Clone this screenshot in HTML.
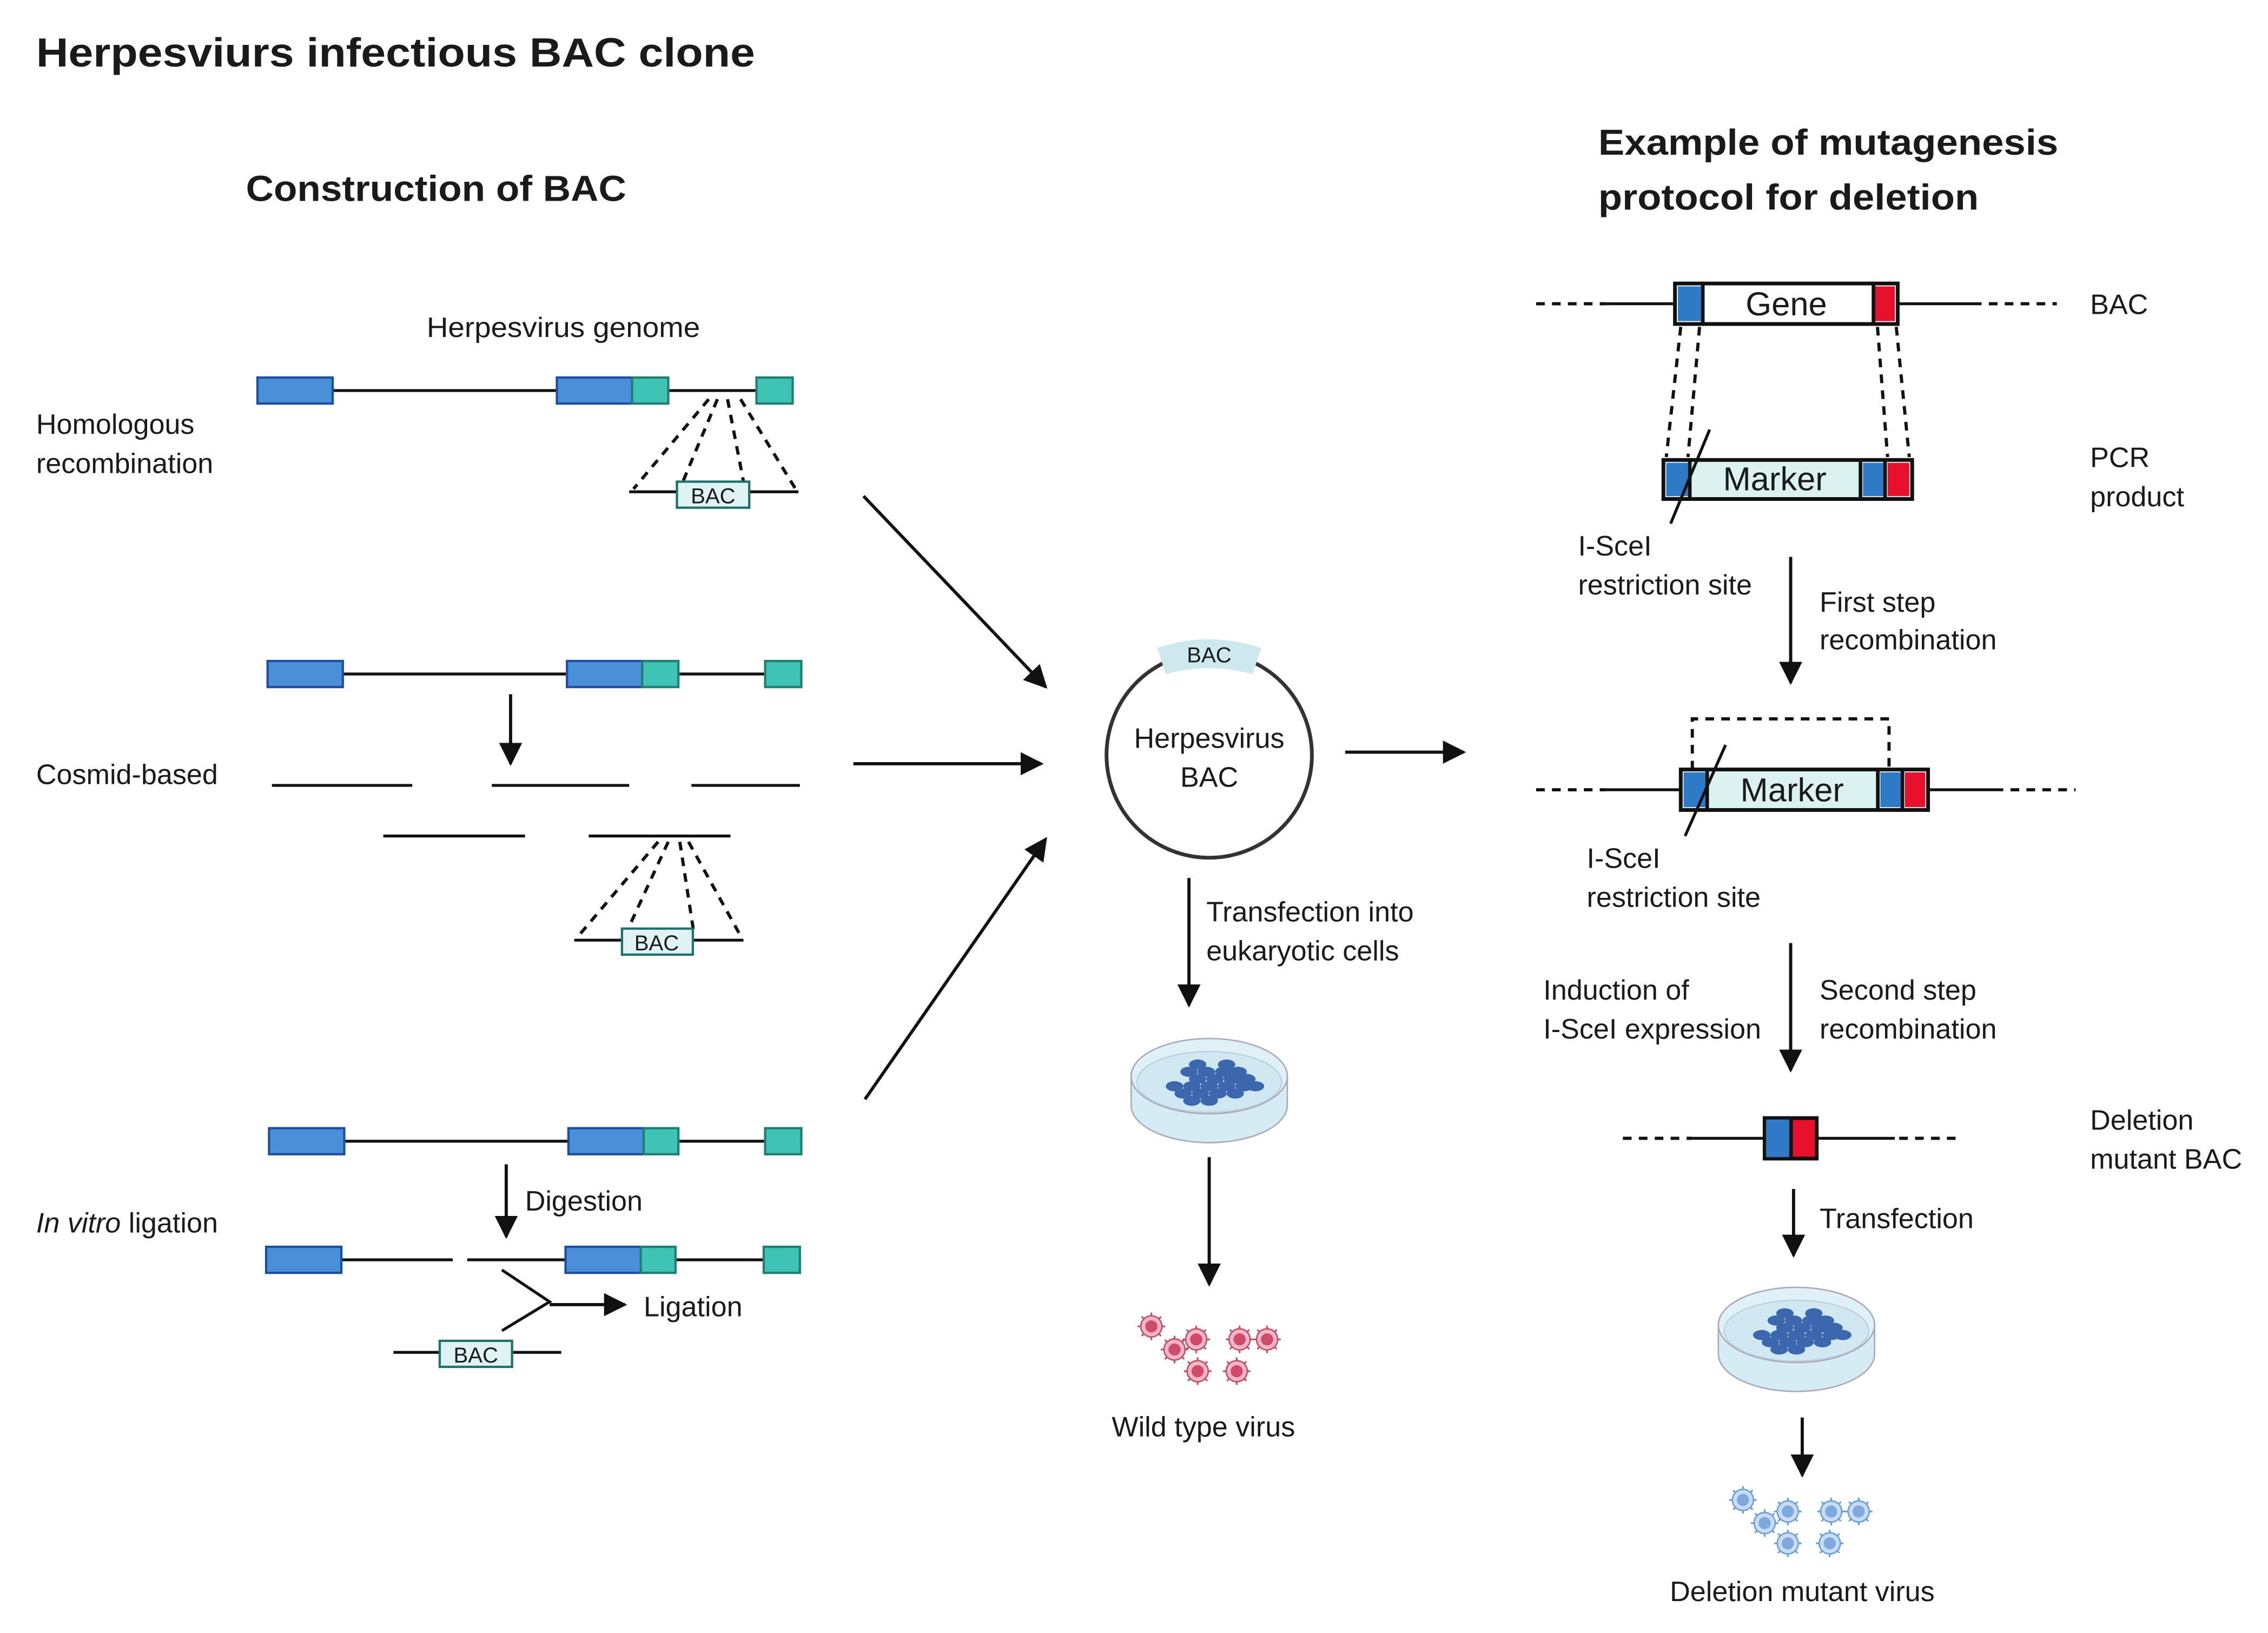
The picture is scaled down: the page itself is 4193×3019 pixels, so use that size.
<!DOCTYPE html>
<html><head><meta charset="utf-8"><style>
html,body{margin:0;padding:0;background:#fff}
svg{display:block}
text{font-family:"Liberation Sans",sans-serif;fill:#1a1a1a}
.l{font-size:19.5px}
.b{font-weight:bold}
</style></head><body>
<svg width="4193" height="3019" viewBox="0 0 1568 1129" preserveAspectRatio="none" xmlns="http://www.w3.org/2000/svg">
<defs>
<marker id="ah" viewBox="0 0 10 10" refX="9" refY="5" markerWidth="5.5" markerHeight="5.5" orient="auto" markerUnits="userSpaceOnUse"><path d="M0,0 L10,5 L0,10 z" fill="#111"/></marker>
<marker id="ah2" viewBox="0 0 10 10" refX="9" refY="5" markerWidth="16" markerHeight="16" orient="auto" markerUnits="userSpaceOnUse"><path d="M0,0 L10,5 L0,10 z" fill="#111"/></marker>
<g id="vr"><g stroke="#c0506a" stroke-width="1.2"><line x1="0" y1="-9.5" x2="0" y2="9.5"/><line x1="-9.5" y1="0" x2="9.5" y2="0"/><line x1="-6.7" y1="-6.7" x2="6.7" y2="6.7"/><line x1="-6.7" y1="6.7" x2="6.7" y2="-6.7"/></g><circle r="7.3" fill="#f3b6c4" stroke="#c0506a" stroke-width="1"/><circle r="4.2" fill="#d04a6a"/></g>
<g id="vb"><g stroke="#6a9fd8" stroke-width="1.2"><line x1="0" y1="-9.5" x2="0" y2="9.5"/><line x1="-9.5" y1="0" x2="9.5" y2="0"/><line x1="-6.7" y1="-6.7" x2="6.7" y2="6.7"/><line x1="-6.7" y1="6.7" x2="6.7" y2="-6.7"/></g><circle r="7.3" fill="#c8dcf5" stroke="#6a9fd8" stroke-width="1"/><circle r="4.2" fill="#7fa9dd"/></g>
<g id="dish">
<path d="M-54,-12 L-54,8 A54,26 0 0 0 54,8 L54,-12" fill="#d6ecf3" stroke="#aab" stroke-width="1"/>
<ellipse cx="0" cy="-12" rx="54" ry="26" fill="#dff0f6" stroke="#aab" stroke-width="1"/>
<ellipse cx="0" cy="-8" rx="50" ry="21" fill="#cfe8f1" stroke="#bcd" stroke-width="0.8"/>
<g fill="#3c67ad">
<ellipse cx="-8" cy="-20" rx="6" ry="3.5"/><ellipse cx="12" cy="-20" rx="6" ry="3.5"/>
<ellipse cx="-14" cy="-15" rx="6" ry="3.5"/><ellipse cx="-2" cy="-15" rx="6" ry="3.5"/><ellipse cx="10" cy="-15" rx="6" ry="3.5"/><ellipse cx="20" cy="-15" rx="6" ry="3.5"/>
<ellipse cx="-8" cy="-10" rx="6" ry="3.5"/><ellipse cx="4" cy="-10" rx="6" ry="3.5"/><ellipse cx="16" cy="-10" rx="6" ry="3.5"/><ellipse cx="26" cy="-10" rx="6" ry="3.5"/>
<ellipse cx="-24" cy="-5" rx="6" ry="3.5"/><ellipse cx="-12" cy="-5" rx="6" ry="3.5"/><ellipse cx="0" cy="-5" rx="6" ry="3.5"/><ellipse cx="12" cy="-5" rx="6" ry="3.5"/><ellipse cx="24" cy="-5" rx="6" ry="3.5"/><ellipse cx="32" cy="-5" rx="6" ry="3.5"/>
<ellipse cx="-18" cy="0" rx="6" ry="3.5"/><ellipse cx="-6" cy="0" rx="6" ry="3.5"/><ellipse cx="6" cy="0" rx="6" ry="3.5"/><ellipse cx="18" cy="0" rx="6" ry="3.5"/>
<ellipse cx="-12" cy="5" rx="6" ry="3.5"/><ellipse cx="0" cy="5" rx="6" ry="3.5"/>
</g>
</g>
</defs>

<!-- titles -->
<text x="25" y="46" class="b" font-size="28" textLength="497" lengthAdjust="spacingAndGlyphs">Herpesviurs infectious BAC clone</text>
<text x="170" y="139" class="b" font-size="25" textLength="263" lengthAdjust="spacingAndGlyphs">Construction of BAC</text>
<text x="1105" y="107" class="b" font-size="25" textLength="318" lengthAdjust="spacingAndGlyphs">Example of mutagenesis</text>
<text x="1105" y="145" class="b" font-size="25" textLength="263" lengthAdjust="spacingAndGlyphs">protocol for deletion</text>

<!-- left labels -->
<text x="295" y="233" class="l" textLength="189" lengthAdjust="spacingAndGlyphs">Herpesvirus genome</text>
<text x="25" y="300" class="l">Homologous</text>
<text x="25" y="327" class="l">recombination</text>
<text x="25" y="542" class="l">Cosmid-based</text>
<text x="25" y="852" class="l"><tspan font-style="italic">In vitro</tspan> ligation</text>

<g stroke="#111" stroke-width="2" fill="none">
<!-- row1 -->
<line x1="230" y1="270" x2="385" y2="270"/><line x1="462" y1="270" x2="523" y2="270"/>
<!-- row2 -->
<line x1="237" y1="466" x2="392" y2="466"/><line x1="469" y1="466" x2="529" y2="466"/>
<line x1="188" y1="543" x2="285" y2="543"/><line x1="340" y1="543" x2="435" y2="543"/><line x1="478" y1="543" x2="553" y2="543"/>
<line x1="265" y1="578" x2="363" y2="578"/><line x1="407" y1="578" x2="505" y2="578"/>
<!-- row3 -->
<line x1="238" y1="789" x2="393" y2="789"/><line x1="469" y1="789" x2="529" y2="789"/>
<line x1="236" y1="871" x2="313" y2="871"/><line x1="323" y1="871" x2="391" y2="871"/><line x1="467" y1="871" x2="528" y2="871"/>
<line x1="435" y1="340" x2="552" y2="340"/>
<line x1="397" y1="650" x2="514" y2="650"/>
<line x1="272" y1="935" x2="388" y2="935"/>
<polyline points="347,878 380,900 347,920"/>
</g>
<!-- dashed trapezoids -->
<g stroke="#111" stroke-width="2.2" fill="none" stroke-dasharray="6,5">
<line x1="490" y1="276" x2="438" y2="338"/><line x1="496" y1="276" x2="470" y2="338"/>
<line x1="503" y1="276" x2="515" y2="338"/><line x1="512" y1="276" x2="550" y2="338"/>
<line x1="455" y1="582" x2="400" y2="647"/><line x1="462" y1="582" x2="432" y2="647"/>
<line x1="470" y1="582" x2="480" y2="647"/><line x1="476" y1="582" x2="512" y2="647"/>
</g>
<!-- blocks -->
<g stroke="#1d4fa0" stroke-width="1.6" fill="#4a8fd8">
<rect x="178" y="261" width="52" height="18"/><rect x="385" y="261" width="52" height="18"/>
<rect x="185" y="457" width="52" height="18"/><rect x="392" y="457" width="52" height="18"/>
<rect x="186" y="780" width="52" height="18"/><rect x="393" y="780" width="52" height="18"/>
<rect x="184" y="862" width="52" height="18"/><rect x="391" y="862" width="52" height="18"/>
</g>
<g stroke="#1f7f72" stroke-width="1.6" fill="#3ec3b4">
<rect x="437" y="261" width="25" height="18"/><rect x="523" y="261" width="25" height="18"/>
<rect x="444" y="457" width="25" height="18"/><rect x="529" y="457" width="25" height="18"/>
<rect x="445" y="780" width="24" height="18"/><rect x="529" y="780" width="25" height="18"/>
<rect x="443" y="862" width="24" height="18"/><rect x="528" y="862" width="25" height="18"/>
</g>
<g stroke="#1f6f6a" stroke-width="1.6" fill="#dff3f5">
<rect x="468" y="333" width="50" height="18"/><rect x="430" y="642" width="49" height="18"/><rect x="304" y="927" width="50" height="18"/>
</g>
<g font-size="15" text-anchor="middle">
<text x="493" y="348">BAC</text><text x="454" y="657">BAC</text><text x="329" y="942">BAC</text>
</g>
<!-- left arrows -->
<g stroke="#111" stroke-width="2.2" fill="none" marker-end="url(#ah2)">
<line x1="353" y1="480" x2="353" y2="528"/>
<line x1="350" y1="805" x2="350" y2="855"/>
<line x1="380" y1="902" x2="432" y2="902"/>
<line x1="597" y1="343" x2="723" y2="475"/>
<line x1="590" y1="528" x2="720" y2="528"/>
<line x1="598" y1="760" x2="723" y2="580"/>
<line x1="930" y1="520" x2="1012" y2="520"/>
<line x1="822" y1="607" x2="822" y2="695"/>
<line x1="836" y1="800" x2="836" y2="888"/>
<line x1="1238" y1="385" x2="1238" y2="472"/>
<line x1="1238" y1="652" x2="1238" y2="740"/>
<line x1="1240" y1="822" x2="1240" y2="868"/>
<line x1="1246" y1="980" x2="1246" y2="1020"/>
</g>
<text x="363" y="837" class="l">Digestion</text>
<text x="445" y="910" class="l">Ligation</text>

<!-- center BAC circle -->
<circle cx="836" cy="522" r="71" fill="none" stroke="#333" stroke-width="2.6"/>
<path d="M800,448 Q836,436 872,448 L866,466 Q836,458 806,466 Z" fill="#cde9ee"/>
<text x="836" y="458" font-size="15" text-anchor="middle">BAC</text>
<text x="836" y="517" class="l" text-anchor="middle">Herpesvirus</text>
<text x="836" y="544" class="l" text-anchor="middle">BAC</text>
<text x="834" y="637" class="l">Transfection into</text>
<text x="834" y="664" class="l">eukaryotic cells</text>
<use href="#dish" x="836" y="756"/>
<use href="#vr" x="796" y="917"/><use href="#vr" x="812" y="933"/><use href="#vr" x="827" y="926"/><use href="#vr" x="828" y="948"/>
<use href="#vr" x="857" y="926"/><use href="#vr" x="876" y="926"/><use href="#vr" x="855" y="948"/>
<text x="832" y="993" class="l" text-anchor="middle">Wild type virus</text>

<!-- right side -->
<g stroke="#111" stroke-width="2" fill="none">
<line x1="1110" y1="210" x2="1158" y2="210"/><line x1="1312" y1="210" x2="1370" y2="210"/>
<line x1="1110" y1="546" x2="1162" y2="546"/><line x1="1333" y1="546" x2="1385" y2="546"/>
<line x1="1170" y1="787" x2="1220" y2="787"/><line x1="1256" y1="787" x2="1310" y2="787"/>
</g>
<g stroke="#111" stroke-width="2.2" fill="none" stroke-dasharray="6,5">
<line x1="1062" y1="210" x2="1110" y2="210"/><line x1="1375" y1="210" x2="1422" y2="210"/>
<line x1="1062" y1="546" x2="1110" y2="546"/><line x1="1390" y1="546" x2="1435" y2="546"/>
<line x1="1122" y1="787" x2="1170" y2="787"/><line x1="1313" y1="787" x2="1357" y2="787"/>
<line x1="1162" y1="226" x2="1152" y2="316"/><line x1="1175" y1="226" x2="1167" y2="316"/>
<line x1="1298" y1="226" x2="1305" y2="316"/><line x1="1311" y1="226" x2="1320" y2="316"/>
<polyline points="1170,532 1170,497 1306,497 1306,532"/>
</g>
<!-- Gene box -->
<rect x="1158" y="196" width="154" height="28" fill="#fff" stroke="#111" stroke-width="2.6"/>
<rect x="1160" y="198" width="16" height="24" fill="#2f7ac6"/><rect x="1176" y="196" width="2.5" height="28" fill="#111"/>
<rect x="1296" y="198" width="14" height="24" fill="#e8112d"/><rect x="1294" y="196" width="2.5" height="28" fill="#111"/>
<text x="1235" y="218" font-size="23" text-anchor="middle">Gene</text>
<!-- PCR marker -->
<rect x="1150" y="318" width="172" height="27" fill="#dcf2f0" stroke="#111" stroke-width="2.6"/>
<rect x="1152" y="320" width="15" height="23" fill="#2f7ac6"/><rect x="1167" y="318" width="2.5" height="27" fill="#111"/>
<rect x="1285" y="318" width="2.5" height="27" fill="#111"/><rect x="1288" y="320" width="14" height="23" fill="#2f7ac6"/>
<rect x="1302" y="318" width="2.5" height="27" fill="#111"/><rect x="1305" y="320" width="15" height="23" fill="#e8112d"/>
<text x="1227" y="339" font-size="23" text-anchor="middle">Marker</text>
<line x1="1182" y1="297" x2="1155" y2="362" stroke="#111" stroke-width="2"/>
<!-- second marker -->
<rect x="1162" y="532" width="171" height="28" fill="#dcf2f0" stroke="#111" stroke-width="2.6"/>
<rect x="1164" y="534" width="15" height="24" fill="#2f7ac6"/><rect x="1179" y="532" width="2.5" height="28" fill="#111"/>
<rect x="1297" y="532" width="2.5" height="28" fill="#111"/><rect x="1300" y="534" width="14" height="24" fill="#2f7ac6"/>
<rect x="1314" y="532" width="2.5" height="28" fill="#111"/><rect x="1317" y="534" width="14" height="24" fill="#e8112d"/>
<text x="1239" y="554" font-size="23" text-anchor="middle">Marker</text>
<line x1="1193" y1="515" x2="1165" y2="578" stroke="#111" stroke-width="2"/>
<!-- deletion -->
<rect x="1220" y="773" width="36" height="28" fill="#e8112d" stroke="#111" stroke-width="2.6"/>
<rect x="1221" y="774" width="16" height="26" fill="#2f7ac6"/><rect x="1237" y="773" width="2.5" height="28" fill="#111"/>

<text x="1445" y="217" class="l">BAC</text>
<text x="1445" y="323" class="l">PCR</text>
<text x="1445" y="350" class="l">product</text>
<text x="1091" y="384" class="l">I-SceI</text>
<text x="1091" y="411" class="l">restriction site</text>
<text x="1258" y="423" class="l">First step</text>
<text x="1258" y="449" class="l">recombination</text>
<text x="1097" y="600" class="l">I-SceI</text>
<text x="1097" y="627" class="l">restriction site</text>
<text x="1067" y="691" class="l">Induction of</text>
<text x="1067" y="718" class="l">I-SceI expression</text>
<text x="1258" y="691" class="l">Second step</text>
<text x="1258" y="718" class="l">recombination</text>
<text x="1445" y="781" class="l">Deletion</text>
<text x="1445" y="808" class="l">mutant BAC</text>
<text x="1258" y="849" class="l">Transfection</text>
<use href="#dish" x="1242" y="928"/>
<use href="#vb" x="1205" y="1037"/><use href="#vb" x="1220" y="1053"/><use href="#vb" x="1236" y="1045"/><use href="#vb" x="1236" y="1067"/>
<use href="#vb" x="1266" y="1045"/><use href="#vb" x="1285" y="1045"/><use href="#vb" x="1265" y="1067"/>
<text x="1246" y="1107" class="l" text-anchor="middle">Deletion mutant virus</text>
</svg>
</body></html>
